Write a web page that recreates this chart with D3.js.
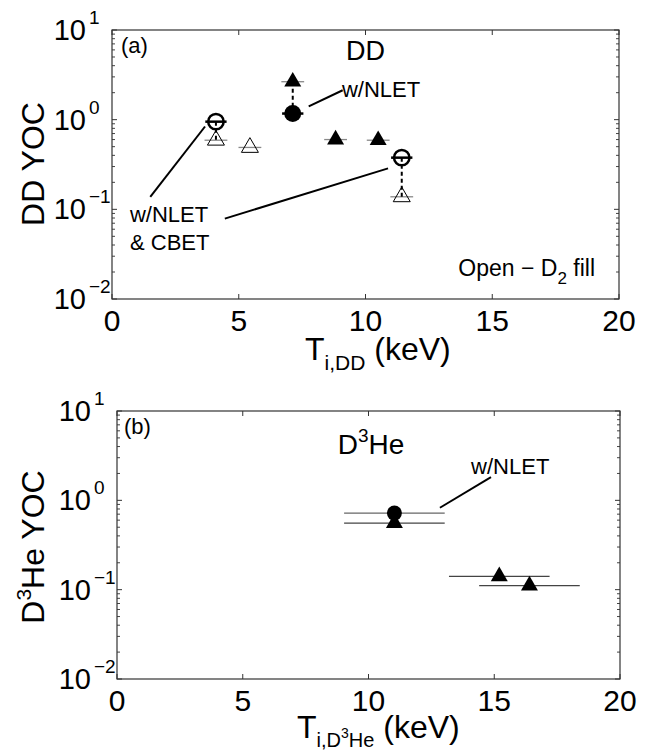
<!DOCTYPE html>
<html>
<head>
<meta charset="utf-8">
<script src="https://cdn.jsdelivr.net/npm/d3@7"></script>
<style>
  body { margin: 0; background: #fff; }
  text { font-family: "Liberation Sans", Arial, Helvetica, sans-serif; fill: #000; }
</style>
</head>
<body>
<div class="figure"></div>
<script>
// tick values
const xTicks = [0, 5, 10, 15, 20];
const yDecades = [1e-2, 1e-1, 1e0, 1e1];
const yExps = ["\u22122", "\u22121", "0", "1"];

// panel (a): DD yield over clean, t = T_i (keV), y = YOC, dt = half width of bar
const ddFilledTri = [
  {t: 7.13, y: 2.65, dt: 0.45},
  {t: 8.82, y: 0.60, dt: 0.45},
  {t: 10.5, y: 0.59, dt: 0.45}
];
const ddFilledCirc = [{t: 7.13, y: 1.17, dt: 0.42}];
const ddOpenTri = [
  {t: 4.1, y: 0.59, dt: 0.45},
  {t: 5.44, y: 0.49, dt: 0.45},
  {t: 11.43, y: 0.138, dt: 0.45}
];
const ddOpenCirc = [
  {t: 4.1, y: 0.95, dt: 0.42},
  {t: 11.43, y: 0.377, dt: 0.42}
];
// dashed links: [t, yFrom, yTo]
const ddLinks = [[7.13, 2.65, 1.17], [4.1, 0.95, 0.59], [11.43, 0.377, 0.138]];
// annotation lines [t1, y1, t2, y2]
const ddNotes = [
  [3.67, 0.839, 1.51, 0.138],
  [10.89, 0.286, 4.45, 0.0788],
  [7.76, 1.406, 9.10, 2.128]
];

// panel (b): D3He
const heFilledTri = [
  {t: 11.03, y: 0.557, dt: 2.0},
  {t: 15.2, y: 0.141, dt: 2.0},
  {t: 16.4, y: 0.111, dt: 2.0}
];
const heFilledCirc = [{t: 11.03, y: 0.72, dt: 2.0}];
const heNotes = [[12.84, 0.826, 14.87, 1.82]];

const width = 647, height = 754;
const svg = d3.select('.figure').append('svg')
    .attr('width', width)
    .attr('height', height);

const tri = d3.symbol().type(d3.symbolTriangle).size(125);

function panel(box) {
  const g = svg.append('g');
  const x = d3.scaleLinear().domain([0, 20]).range([box.left, box.right]);
  const y = d3.scaleLog().domain([1e-2, 1e1]).range([box.bottom, box.top]);

  // minor + major y ticks, both sides
  let minors = [];
  yDecades.slice(0, 3).forEach(d => { for (let k = 2; k <= 9; k++) minors.push(d * k); });
  minors.forEach(v => {
    g.append('line').attr('x1', box.left).attr('x2', box.left + 3).attr('y1', y(v)).attr('y2', y(v)).attr('stroke', '#444');
    g.append('line').attr('x1', box.right).attr('x2', box.right - 3).attr('y1', y(v)).attr('y2', y(v)).attr('stroke', '#444');
  });
  yDecades.forEach((v, i) => {
    g.append('line').attr('x1', box.left).attr('x2', box.left + 5).attr('y1', y(v)).attr('y2', y(v)).attr('stroke', '#333');
    g.append('line').attr('x1', box.right).attr('x2', box.right - 5).attr('y1', y(v)).attr('y2', y(v)).attr('stroke', '#333');
    g.append('text').attr('x', box.left - 26).attr('y', y(v) + 10)
        .attr('text-anchor', 'end').attr('font-size', 29).text('10');
    g.append('text').attr('x', box.left - 23).attr('y', y(v) - 6)
        .attr('font-size', 19).text(yExps[i]);
  });
  xTicks.forEach(v => {
    g.append('line').attr('x1', x(v)).attr('x2', x(v)).attr('y1', box.bottom).attr('y2', box.bottom - 5).attr('stroke', '#333');
    g.append('line').attr('x1', x(v)).attr('x2', x(v)).attr('y1', box.top).attr('y2', box.top + 5).attr('stroke', '#333');
    g.append('text').attr('x', x(v)).attr('y', box.bottom + 32)
        .attr('text-anchor', 'middle').attr('font-size', 30).text(v);
  });
  g.append('rect').attr('x', box.left).attr('y', box.top)
      .attr('width', box.right - box.left).attr('height', box.bottom - box.top)
      .attr('fill', 'none').attr('stroke', '#333').attr('stroke-width', 1.2);
  return {g, x, y};
}

function bars(p, data, color, w) {
  p.g.selectAll(null).data(data).enter().append('line')
      .attr('x1', d => p.x(d.t - d.dt)).attr('x2', d => p.x(d.t + d.dt))
      .attr('y1', d => p.y(d.y)).attr('y2', d => p.y(d.y))
      .attr('stroke', color).attr('stroke-width', w);
}
function notes(p, data) {
  p.g.selectAll(null).data(data).enter().append('line')
      .attr('x1', d => p.x(d[0])).attr('y1', d => p.y(d[1]))
      .attr('x2', d => p.x(d[2])).attr('y2', d => p.y(d[3]))
      .attr('stroke', '#000').attr('stroke-width', 2);
}

// ---------- panel (a)
const a = panel({left: 112, right: 619, top: 30, bottom: 299});
bars(a, ddOpenTri, '#888', 1.3);
bars(a, ddFilledTri, '#888', 1.3);
a.g.selectAll(null).data(ddLinks).enter().append('line')
    .attr('x1', d => a.x(d[0])).attr('x2', d => a.x(d[0]))
    .attr('y1', d => a.y(d[1])).attr('y2', d => a.y(d[2]))
    .attr('stroke', '#000').attr('stroke-width', 2).attr('stroke-dasharray', '4,3');
a.g.selectAll(null).data(ddOpenTri).enter().append('path')
    .attr('d', tri).attr('transform', d => `translate(${a.x(d.t)},${a.y(d.y)})`)
    .attr('fill', 'none').attr('stroke', '#000').attr('stroke-width', 1);
a.g.selectAll(null).data(ddFilledTri).enter().append('path')
    .attr('d', tri).attr('transform', d => `translate(${a.x(d.t)},${a.y(d.y)})`)
    .attr('fill', '#000');
a.g.selectAll(null).data(ddFilledCirc).enter().append('circle')
    .attr('cx', d => a.x(d.t)).attr('cy', d => a.y(d.y)).attr('r', 8.5).attr('fill', '#000');
bars(a, ddFilledCirc, '#000', 2.5);
a.g.selectAll(null).data(ddOpenCirc).enter().append('circle')
    .attr('cx', d => a.x(d.t)).attr('cy', d => a.y(d.y)).attr('r', 7.7)
    .attr('fill', 'none').attr('stroke', '#000').attr('stroke-width', 2.5);
bars(a, ddOpenCirc, '#000', 2.5);
notes(a, ddNotes);

a.g.append('text').attr('x', 121).attr('y', 53).attr('font-size', 22).text('(a)');
a.g.append('text').attr('x', a.x(10)).attr('y', 60).attr('text-anchor', 'middle').attr('font-size', 27).text('DD');
a.g.append('text').attr('x', a.x(9.07)).attr('y', a.y(1.79)).attr('font-size', 22).text('w/NLET');
a.g.append('text').attr('x', a.x(0.71)).attr('y', a.y(0.0723)).attr('font-size', 22).text('w/NLET');
a.g.append('text').attr('x', a.x(0.71)).attr('y', a.y(0.0352)).attr('font-size', 22).text('& CBET');
const op = a.g.append('text').attr('x', 595).attr('y', 276).attr('text-anchor', 'end').attr('font-size', 23);
op.append('tspan').text('Open \u2212 D');
op.append('tspan').attr('font-size', 17).attr('dy', 8).text('2');
op.append('tspan').attr('dy', -8).text(' fill');

const xa = svg.append('text').attr('x', 305).attr('y', 360).attr('font-size', 32);
xa.append('tspan').text('T');
xa.append('tspan').attr('font-size', 21).attr('dy', 10).text('i,DD');
xa.append('tspan').attr('dy', -10).text(' (keV)');
svg.append('text').attr('transform', 'translate(44,164) rotate(-90)')
    .attr('text-anchor', 'middle').attr('font-size', 32).text('DD YOC');

// ---------- panel (b)
const b = panel({left: 117, right: 620, top: 411, bottom: 679});
bars(b, heFilledCirc, '#666', 1.3);
bars(b, heFilledTri, '#444', 1.3);
b.g.selectAll(null).data(heFilledCirc).enter().append('circle')
    .attr('cx', d => b.x(d.t)).attr('cy', d => b.y(d.y)).attr('r', 7.5).attr('fill', '#000');
b.g.selectAll(null).data(heFilledTri).enter().append('path')
    .attr('d', tri).attr('transform', d => `translate(${b.x(d.t)},${b.y(d.y)})`)
    .attr('fill', '#000');
notes(b, heNotes);

b.g.append('text').attr('x', 124).attr('y', 434).attr('font-size', 22).text('(b)');
b.g.append('text').attr('x', b.x(14.08)).attr('y', b.y(1.99)).attr('font-size', 22).text('w/NLET');
const tb = b.g.append('text').attr('x', b.x(10.1)).attr('y', 454).attr('text-anchor', 'middle').attr('font-size', 28);
tb.append('tspan').text('D');
tb.append('tspan').attr('font-size', 19).attr('dy', -12).text('3');
tb.append('tspan').attr('dy', 12).text('He');

const xb = svg.append('text').attr('x', 297).attr('y', 738).attr('font-size', 32);
xb.append('tspan').text('T');
xb.append('tspan').attr('font-size', 20).attr('dy', 9).text('i,D');
xb.append('tspan').attr('font-size', 14).attr('dy', -9).text('3');
xb.append('tspan').attr('font-size', 20).attr('dy', 9).text('He');
xb.append('tspan').attr('dy', -9).text(' (keV)');
const yb = svg.append('text').attr('transform', 'translate(44,547) rotate(-90)')
    .attr('text-anchor', 'middle').attr('font-size', 32);
yb.append('tspan').text('D');
yb.append('tspan').attr('font-size', 21).attr('dy', -13).text('3');
yb.append('tspan').attr('dy', 13).text('He YOC');
</script>
</body>
</html>
